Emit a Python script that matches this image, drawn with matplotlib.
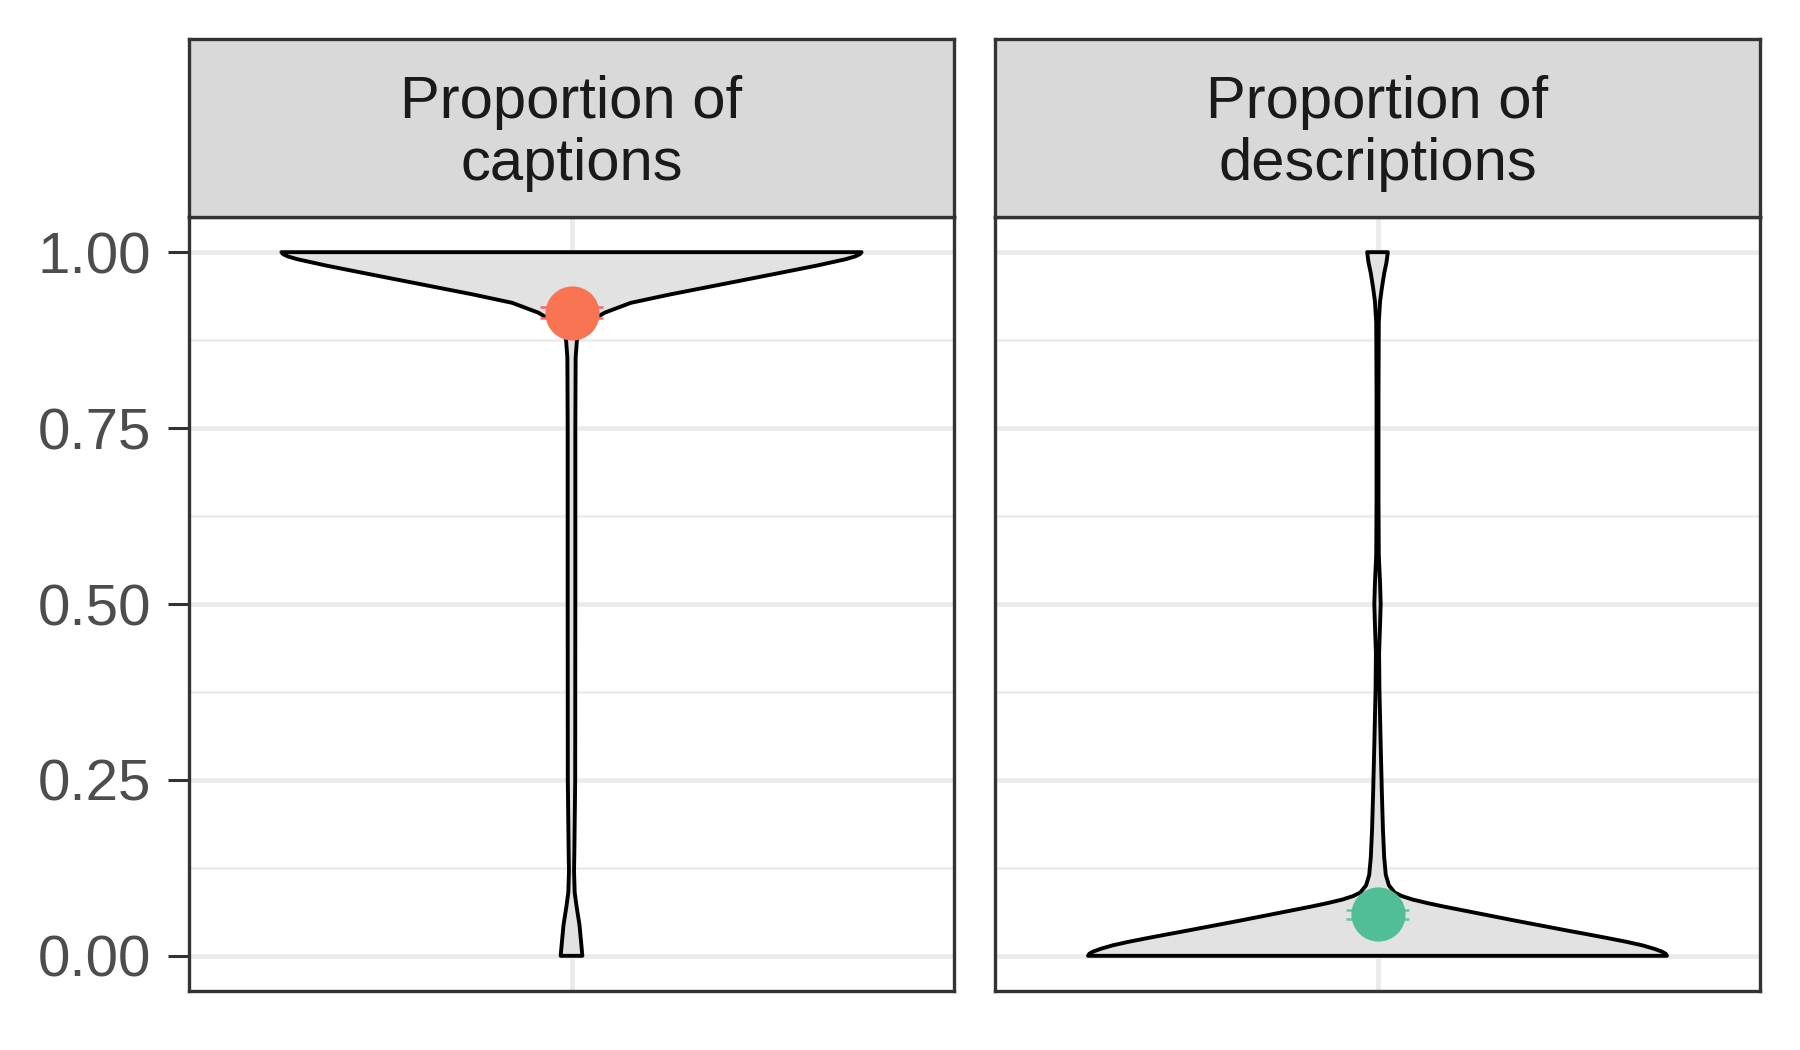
import numpy as np
import matplotlib
matplotlib.use("Agg")
import matplotlib.pyplot as plt

plt.rcParams['font.family'] = ['Liberation Sans', 'DejaVu Sans']

# ---- data ----
facet_labels = ["Proportion of\ncaptions", "Proportion of\ndescriptions"]
y_ticks = [0.00, 0.25, 0.50, 0.75, 1.00]
y_ticklabels = ["0.00", "0.25", "0.50", "0.75", "1.00"]

# violin profile (value, half-width of density as drawn)
cap_v = [0.0, 0.02, 0.044, 0.07, 0.09, 0.12, 0.15, 0.25, 0.5, 0.75, 0.85, 0.875,
         0.89, 0.90, 0.905, 0.914, 0.928, 0.940, 0.951, 0.962, 0.972, 0.981,
         0.986, 0.990, 0.994, 0.997, 1.0]
cap_hw = [0.017, 0.015, 0.0125, 0.008, 0.005, 0.004, 0.0045, 0.0058, 0.006,
          0.006, 0.0065, 0.0085, 0.014, 0.025, 0.035, 0.052, 0.093, 0.155,
          0.217, 0.279, 0.335, 0.385, 0.410, 0.430, 0.445, 0.452, 0.455]

desc_v = [0.0, 0.003, 0.006, 0.010, 0.015, 0.020, 0.025, 0.030, 0.035, 0.040,
          0.045, 0.050, 0.055, 0.060, 0.065, 0.070, 0.075, 0.080, 0.085, 0.090,
          0.100, 0.115, 0.14, 0.18, 0.233, 0.30, 0.38, 0.43, 0.47, 0.50, 0.53,
          0.57, 0.65, 0.80, 0.90, 0.93, 0.95, 0.97, 0.985, 1.0]
desc_hw = [0.454, 0.452, 0.446, 0.434, 0.415, 0.390, 0.362, 0.333, 0.303, 0.274,
           0.245, 0.216, 0.188, 0.160, 0.132, 0.104, 0.078, 0.055, 0.038, 0.027,
           0.018, 0.013, 0.0105, 0.0085, 0.0068, 0.005, 0.003, 0.0025, 0.004,
           0.005, 0.004, 0.002, 0.0015, 0.0015, 0.002, 0.004, 0.007, 0.0105,
           0.014, 0.0162]

means = [0.914, 0.059]
ci_low = [0.906, 0.053]
ci_high = [0.922, 0.065]
point_colors = ["#F97452", "#52BE96"]
err_colors = ["#F76A6A", "#60C8A0"]

profiles = [(cap_v, cap_hw), (desc_v, desc_hw)]

# ---- figure ----
W, H = 1800, 1050
fig = plt.figure(figsize=(18, 10.5), dpi=100)

panel_x = [189, 995]
panel_w = 765
panel_top, panel_bot = 217, 991
strip_top = 39

border_col = "#333333"
grid_col = "#EBEBEB"
lw_border = 2.4

for i in range(2):
    x0 = panel_x[i] / W
    ax = fig.add_axes([x0, 1 - panel_bot / H, panel_w / W, (panel_bot - panel_top) / H])
    ax.set_xlim(0.4, 1.6)
    ax.set_ylim(-0.05, 1.05)
    # grid
    for yv in [0.125, 0.375, 0.625, 0.875]:
        ax.axhline(yv, color=grid_col, lw=1.8, zorder=0)
    for yv in y_ticks:
        ax.axhline(yv, color=grid_col, lw=3.4, zorder=0)
    ax.axvline(1.0, color=grid_col, lw=3.4, zorder=0)

    v, hw = profiles[i]
    v = np.asarray(v)
    hw = np.asarray(hw)
    xs = np.concatenate([1 + hw, (1 - hw)[::-1]])
    ys = np.concatenate([v, v[::-1]])
    ax.fill(xs, ys, facecolor="#E2E2E2", edgecolor="black", lw=2.8,
            joinstyle="round", zorder=2)

    # error bar + mean point
    ax.vlines(1.0, ci_low[i], ci_high[i], color=err_colors[i], lw=1.8, zorder=3)
    ax.hlines([ci_low[i], ci_high[i]], 0.95, 1.05, color=err_colors[i], lw=1.8, zorder=3)
    ax.plot([1.0], [means[i]], marker='o', ms=39, color=point_colors[i],
            mec='none', zorder=4)

    for s in ax.spines.values():
        s.set_color(border_col)
        s.set_linewidth(lw_border)
        s.set_zorder(5)
    ax.set_xticks([])
    ax.set_yticks(y_ticks)
    if i == 0:
        ax.set_yticklabels(y_ticklabels)
        ax.tick_params(axis='y', length=15, width=2.2, color=border_col,
                       labelsize=42, labelcolor="#4D4D4D", pad=12)
    else:
        ax.tick_params(axis='y', length=0, labelleft=False)

    # strip
    sax = fig.add_axes([x0, 1 - panel_top / H, panel_w / W, (panel_top - strip_top) / H])
    sax.set_facecolor("#D9D9D9")
    sax.set_xticks([])
    sax.set_yticks([])
    for s in sax.spines.values():
        s.set_color(border_col)
        s.set_linewidth(lw_border)
    sax.text(0.5, 0.47, facet_labels[i], transform=sax.transAxes, ha='center',
             va='center', fontsize=43, color="#1A1A1A", linespacing=1.17)

fig.savefig("out.png", dpi=100, facecolor="white")
